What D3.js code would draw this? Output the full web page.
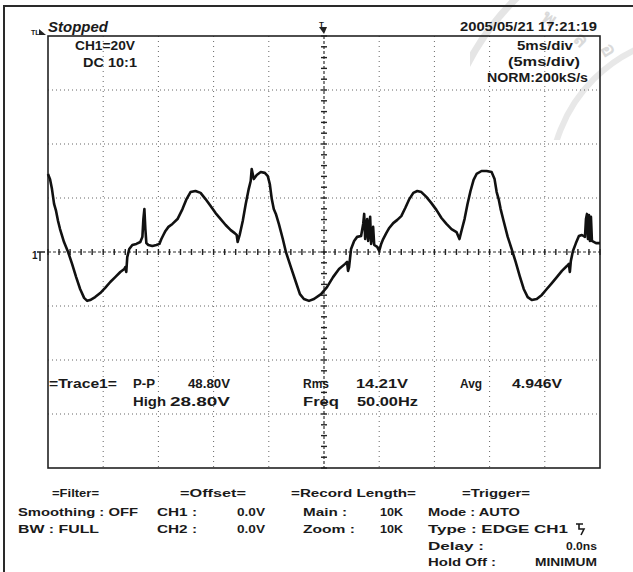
<!DOCTYPE html>
<html><head><meta charset="utf-8">
<script src="https://cdn.jsdelivr.net/npm/d3@7"></script>
<style>
html,body{margin:0;padding:0;background:#fff;}
svg{display:block;}
text{font-family:"Liberation Sans",Arial,sans-serif;font-weight:bold;fill:#1a1a1a;}
</style></head>
<body>
<svg id="c" width="633" height="572"></svg>
<script>
// ---- data (time in ms, voltage in V) ----
const timeMs = [0,0.18,0.36,0.55,0.73,0.91,1.09,1.45,1.82,2.18,2.55,2.91,3.27,3.55,3.82,4.27,4.73,5.18,5.64,6.09,6.55,6.91,7.0,7.09,7.18,7.36,7.64,8.0,8.36,8.55,8.64,8.73,8.82,8.91,9.09,9.45,9.82,10.09,10.27,10.45,10.64,10.91,11.27,11.73,12.18,12.55,12.91,13.36,13.82,14.27,14.73,15.18,15.64,16.09,16.55,16.91,17.09,17.18,17.36,17.64,17.91,18.18,18.36,18.45,18.64,18.91,19.27,19.64,19.91,20.09,20.27,20.45,20.64,20.91,21.27,21.55,22.0,22.45,22.82,23.18,23.64,24.09,24.73,25.27,25.82,26.36,26.91,27.09,27.18,27.27,27.45,27.73,28.0,28.36,28.55,28.64,28.73,28.91,29.0,29.18,29.27,29.45,29.55,29.82,30.0,30.18,30.36,30.64,30.91,31.27,31.64,32.0,32.36,32.73,33.09,33.45,33.82,34.27,34.73,35.18,35.64,36.09,36.55,37.0,37.27,37.45,37.73,38.0,38.27,38.55,38.82,39.27,39.73,40.18,40.45,40.64,40.82,41.0,41.27,41.64,42.0,42.36,42.73,43.09,43.45,43.82,44.27,44.73,45.18,45.64,46.09,46.55,47.0,47.18,47.27,47.36,47.55,47.82,48.09,48.36,48.64,48.73,48.82,48.91,49.0,49.09,49.18,49.27,49.64,50.0];
const voltsV = [28.9,27.0,23.3,17.8,15.2,11.5,8.5,3.7,0,-4.4,-9.3,-13.7,-17.0,-18.1,-17.8,-16.7,-15.2,-13.3,-11.1,-9.3,-7.4,-6.3,-5.6,-7.4,-1.9,1.1,2.6,3.0,3.7,5.6,12.2,15.9,8.5,3.3,2.6,2.2,2.6,3.0,4.8,6.3,7.8,9.3,10.4,12.2,15.9,19.6,22.2,22.6,21.9,19.6,17.0,14.4,12.2,10.0,8.1,7.0,6.3,3.7,6.3,11.5,17.8,23.3,26.3,30.7,27.0,28.5,29.6,29.3,28.1,25.2,19.6,15.9,14.1,10.4,4.8,0,-5.6,-11.1,-15.6,-17.4,-18.1,-17.4,-15.6,-13.0,-9.3,-6.3,-4.4,-3.7,-7.0,-5.6,1.1,4.1,5.6,5.9,10.4,14.1,4.8,12.2,4.1,13.0,3.0,9.3,2.6,1.9,0.4,3.0,4.8,7.0,8.9,10.7,11.9,13.3,16.3,19.6,21.9,22.6,22.2,20.4,18.1,15.6,12.6,10.4,8.5,7.4,4.8,7.8,12.2,17.8,22.6,26.7,28.9,30.0,30.0,29.6,27.0,22.2,19.6,15.9,11.5,5.6,1.1,-3.7,-8.9,-13.7,-16.7,-17.8,-17.4,-15.9,-13.7,-11.5,-9.3,-7.0,-5.2,-4.4,-7.4,-3.3,0.4,3.3,5.9,6.3,5.6,12.2,14.1,4.8,13.7,4.1,13.0,4.1,3.3,3.3];

const timeDivs = [0,5,10,15,20,25,30,35,40,45,50];      // 5 ms/div
const voltDivs = [-80,-60,-40,-20,0,20,40,60,80];       // 20 V/div

const headerLeft = ["Stopped","CH1=20V","DC  10:1"];
const headerRight = ["2005/05/21  17:21:19","5ms/div","(5ms/div)","NORM:200kS/s"];
const measLabels = ["=Trace1=","P-P","48.80V","High","28.80V","Rms","14.21V","Freq","50.00Hz","Avg","4.946V"];
const footerFilter = ["=Filter=","Smoothing : OFF","BW : FULL"];
const footerOffset = ["=Offset=","CH1 :","0.0V","CH2 :","0.0V"];
const footerRecord = ["=Record Length=","Main :","10K","Zoom :","10K"];
const footerTrigger = ["=Trigger=","Mode : AUTO","Type : EDGE CH1","Delay :","0.0ns","Hold Off :","MINIMUM"];

// ---- drawing ----
const svg = d3.select("#c");
const L=48, R=600, T=36, B=468;
const x = d3.scaleLinear().domain([0,50]).range([L,R]);
const y = d3.scaleLinear().domain([-80,80]).range([B,T]);

// faint watermark stamp (top-right), clipped to corner
svg.append("clipPath").attr("id","wmclip").append("rect").attr("x",470).attr("y",0).attr("width",163).attr("height",140);
const wm = svg.append("g").attr("clip-path","url(#wmclip)").attr("opacity",0.3);
wm.append("circle").attr("cx",700).attr("cy",185).attr("r",262).attr("fill","none").attr("stroke","#aaa").attr("stroke-width",7);
wm.append("circle").attr("cx",700).attr("cy",185).attr("r",150).attr("fill","none").attr("stroke","#b4b4b4").attr("stroke-width",6);
[["พ",540,20,35],["ล",572,40,45],["อ",600,48,60]].forEach(d=>{
  wm.append("text").attr("transform",`translate(${d[1]},${d[2]}) rotate(${d[3]})`)
    .attr("font-size",20).style("font-family","'Noto Sans','DejaVu Sans',sans-serif").style("fill","#888").text(d[0]);
});

// outer border (top + left)
svg.append("path").attr("d","M4,572 V6 H633").attr("fill","none").attr("stroke","#2a2a2a").attr("stroke-width",2);

// grid
const g = svg.append("g");
timeDivs.slice(1,-1).forEach(t=>{
  if (t===25) return;
  g.append("line").attr("x1",x(t)).attr("x2",x(t)).attr("y1",T).attr("y2",B)
   .attr("stroke","#666").attr("stroke-width",1).attr("stroke-dasharray","1,4");
});
voltDivs.slice(1,-1).forEach(v=>{
  if (v===0) return;
  g.append("line").attr("x1",L).attr("x2",R).attr("y1",y(v)).attr("y2",y(v))
   .attr("stroke","#666").attr("stroke-width",1).attr("stroke-dasharray","1,3");
});
// centre cross with minor ticks
g.append("line").attr("x1",L).attr("x2",R).attr("y1",y(0)).attr("y2",y(0))
  .attr("stroke","#333").attr("stroke-width",1.2).attr("stroke-dasharray","3,2");
g.append("line").attr("x1",x(25)).attr("x2",x(25)).attr("y1",T).attr("y2",B)
  .attr("stroke","#333").attr("stroke-width",1.2).attr("stroke-dasharray","3,2");
d3.range(0,50.01,1).forEach(t=>{
  g.append("line").attr("x1",x(t)).attr("x2",x(t)).attr("y1",y(0)-3).attr("y2",y(0)+3)
   .attr("stroke","#222").attr("stroke-width",1.4);
});
d3.range(-80,80.01,4).forEach(v=>{
  g.append("line").attr("x1",x(25)-3).attr("x2",x(25)+3).attr("y1",y(v)).attr("y2",y(v))
   .attr("stroke","#222").attr("stroke-width",1.4);
});

// frame
svg.append("rect").attr("x",L).attr("y",T).attr("width",R-L).attr("height",B-T)
  .attr("fill","none").attr("stroke","#222").attr("stroke-width",1.6);

// waveform
const line = d3.line().x((d,i)=>x(timeMs[i])).y((d,i)=>y(voltsV[i]));
svg.append("path").datum(voltsV).attr("d",line).attr("fill","none")
  .attr("stroke","#111").attr("stroke-width",2.6).attr("stroke-linejoin","round");

// markers
svg.append("text").attr("x",31).attr("y",35).attr("font-size",7).text("TL");
svg.append("path").attr("d","M39,29 L46,35 L39,35 Z").attr("fill","#222");
svg.append("text").attr("x",x(25)-5).attr("y",27).attr("font-size",8).text("T");
svg.append("path").attr("d",`M${x(25)-5},27 H${x(25)+3} L${x(25)},34 Z`).attr("fill","#222");
svg.append("text").attr("x",32).attr("y",259).attr("font-size",10).text("1");
svg.append("path").attr("d",`M37,${y(0)} H45 M40,${y(0)} V${y(0)+9}`).attr("stroke","#222").attr("stroke-width",1.5).attr("fill","none");

// text helper
function txt(s,x0,base,w,size,opts){
  const t = svg.append("text").attr("x",x0).attr("y",base).attr("font-size",size||12).text(s);
  if (w) t.attr("textLength",w).attr("lengthAdjust","spacingAndGlyphs");
  if (opts && opts.italic) t.attr("font-style","italic");
  return t;
}
txt(headerLeft[0],48,32,60,14,{italic:true});
txt(headerLeft[1],75,50,60,12);
txt(headerLeft[2],83,67,54,12);
txt(headerRight[0],460,31,137,12);
txt(headerRight[1],517,50,56,12);
txt(headerRight[2],508,66,72,12);
txt(headerRight[3],487,82,101,12);

// measurements
const r1=388, r2=406;
txt(measLabels[0],49,r1,68,12);
txt(measLabels[1],133,r1,22,12);
txt(measLabels[2],188,r1,42,12);
txt(measLabels[3],133,r2,33,12);
txt(measLabels[4],170,r2,60,12);
txt(measLabels[5],303,r1,26,12);
txt(measLabels[6],356,r1,52,12);
txt(measLabels[7],303,r2,36,12);
txt(measLabels[8],357,r2,61,12);
txt(measLabels[9],460,r1,22,12);
txt(measLabels[10],512,r1,50,12);

// footer
const f0=497,f1=516,f2=533,f3=550,f4=566;
txt(footerFilter[0],52,f0,47,11);
txt(footerFilter[1],18,f1,120,11);
txt(footerFilter[2],18,f2,81,11);
txt(footerOffset[0],180,f0,66,11);
txt(footerOffset[1],157,f1,40,11);
txt(footerOffset[2],237,f1,28,11);
txt(footerOffset[3],157,f2,40,11);
txt(footerOffset[4],237,f2,28,11);
txt(footerRecord[0],291,f0,125,11);
txt(footerRecord[1],303,f1,44,11);
txt(footerRecord[2],380,f1,23,11);
txt(footerRecord[3],303,f2,52,11);
txt(footerRecord[4],380,f2,23,11);
txt(footerTrigger[0],462,f0,68,11);
txt(footerTrigger[1],428,f1,92,11);
txt(footerTrigger[2],428,f2,140,11);
svg.append("path").attr("d",`M576,${f2-9} H583 M579,${f2-9} L579,${f2-4} L584,${f2-4} L581,${f2+2}`).attr("stroke","#1a1a1a").attr("stroke-width",1.6).attr("fill","none");
txt(footerTrigger[3],428,f3,56,11);
txt(footerTrigger[4],566,f3,31,11);
txt(footerTrigger[5],428,f4,68,11);
txt(footerTrigger[6],535,f4,62,11);
</script>
</body></html>
